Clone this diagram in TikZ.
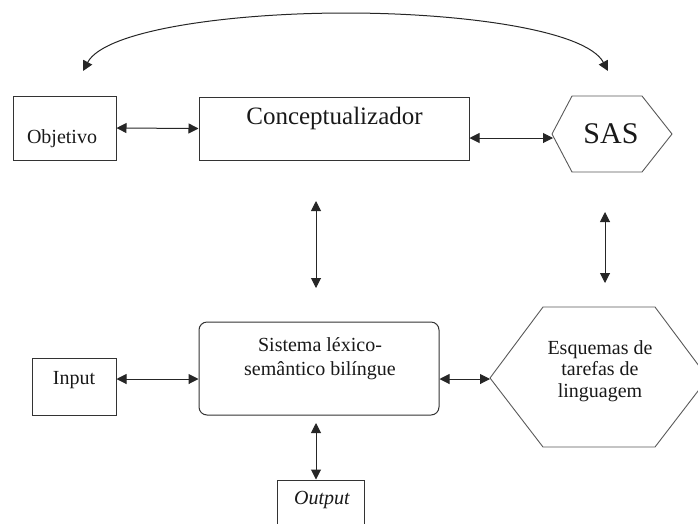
\documentclass[tikz,border=0pt]{standalone}
\usepackage{fontspec}
\setmainfont{Liberation Serif}
\usetikzlibrary{arrows.meta}
\begin{document}
\begin{tikzpicture}[x=1pt,y=-1pt,
  box/.style={draw=black!80, line width=1pt, inner sep=0pt},
  hexa/.style={draw=black!65, line width=0.9pt},
  txt/.style={font=\fontsize{20}{24}\selectfont, align=center, inner sep=0pt, text=black!90},
  arr/.style={black!85, line width=1pt, {Triangle[length=10pt,width=10pt]}-{Triangle[length=10pt,width=10pt]}}]
\useasboundingbox (0,0) rectangle (698,523);
\clip (0,0) rectangle (698,523);
% top row
\node[box, minimum width=103pt, minimum height=64pt] (obj) at (64.5,128) {};
\node[txt] (objt) at (62,139) {Objetivo};
\node[box, minimum width=270pt, minimum height=63pt] (conc) at (334,128.5) {};
\node[txt, font=\fontsize{25}{30}\selectfont] (conct) at (334.5,118) {Conceptualizador};
\draw[hexa] (552,134) -- (572,96) -- (642,96) -- (672,134) -- (642,172) -- (572,172) -- cycle;
\node[txt, font=\fontsize{30}{36}\selectfont] (sas) at (611,134) {SAS};
\coordinate (sasW) at (553,138);
% bottom row
\node[box, rounded corners=8pt, minimum width=240pt, minimum height=93pt] (sis) at (319,368.5) {};
\node[txt] (sist) at (320,359) {Sistema léxico-\\semântico bilíngue};
\node[box, minimum width=84pt, minimum height=57pt] (inp) at (74,386.5) {};
\node[txt] (inpt) at (74,380) {Input};
\draw[hexa] (490,378) -- (543,307) -- (655,307) -- (708,378) -- (655,447) -- (543,447) -- cycle;
\node[txt, font=\fontsize{20}{21.5}\selectfont] (esq) at (600,371) {Esquemas de\\tarefas de\\linguagem};
\coordinate (esqW) at (490,379);
\node[box, minimum width=87pt, minimum height=60pt] (out) at (320.5,510) {};
\node[txt, font=\fontsize{20}{24}\selectfont\itshape] (outt) at (322,500) {Output};
% connectors
\draw[arr] (obj.east) -- (conc.west);
\draw[arr] (conc.east |- sasW) -- (sasW);
\draw[arr] (inp.east |- esqW) -- (sis.west |- esqW);
\draw[arr] (sis.east |- esqW) -- (esqW);
\coordinate (v1t) at (316,201);
\coordinate (v1b) at (316,288);
\draw[arr] (v1t) -- (v1b);
\coordinate (v2t) at (605,212);
\coordinate (v2b) at (605,283);
\draw[arr] (v2t) -- (v2b);
\coordinate (v3t) at (316,423);
\draw[arr] (v3t) -- (out.north -| v3t);
\coordinate (cl) at (83,71);
\coordinate (cr) at (608,71);
\coordinate (ctop) at (346,13);
\draw[arr] (cl) .. controls (105,30) and (230,13) .. (ctop) .. controls (462,13) and (586,30) .. (cr);
\end{tikzpicture}
\end{document}
